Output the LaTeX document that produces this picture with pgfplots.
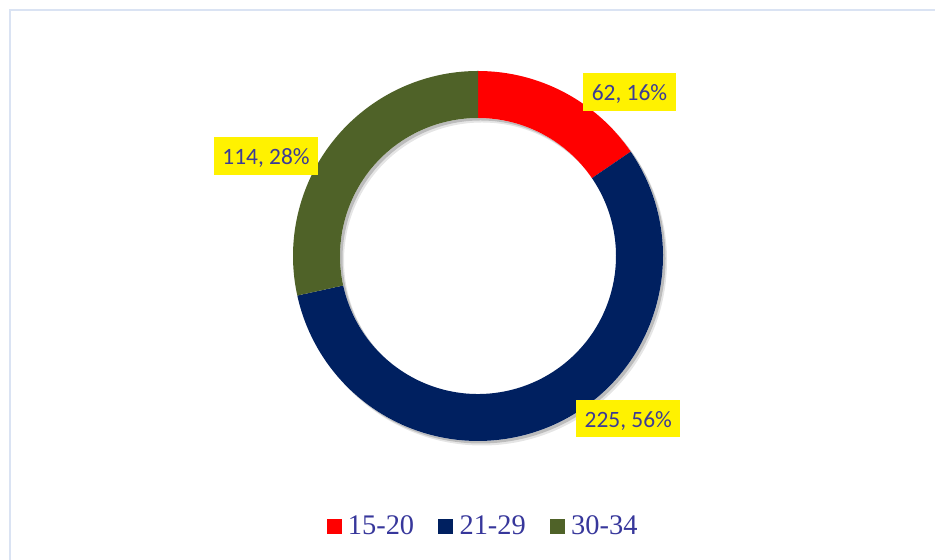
\documentclass[border=0pt]{standalone}
\usepackage{pgfplots}
\pgfplotsset{compat=1.18}
\usepackage{pgfplotstable}
\usepackage{fontspec}
\setmainfont{Liberation Serif}
\newfontfamily\carlito{Carlito}
\definecolor{c1}{HTML}{FF0000}
\definecolor{c2}{HTML}{002060}
\definecolor{c3}{HTML}{4F6228}
\definecolor{lblcol}{RGB}{60,60,150}
\definecolor{legcol}{RGB}{55,55,155}
\definecolor{framecol}{RGB}{218,227,243}

\pgfplotstableread{
label value
15-20 62
21-29 225
30-34 114
}\datatable

\newcommand\seg[3]{%
  \fill[#1] (axis cs:{478+185*cos(#2)},{304+185*sin(#2)}) arc[start angle=#2, end angle=#3, radius=185bp]
    -- (axis cs:{478+138*cos(#3)},{304+138*sin(#3)}) arc[start angle=#3, end angle=#2, radius=138bp] -- cycle;}

\begin{document}
\begin{tikzpicture}
\pgfplotstablegetelem{0}{value}\of\datatable \let\vA\pgfplotsretval
\pgfplotstablegetelem{1}{value}\of\datatable \let\vB\pgfplotsretval
\pgfplotstablegetelem{2}{value}\of\datatable \let\vC\pgfplotsretval
\pgfmathsetmacro\total{\vA+\vB+\vC}
\pgfmathsetmacro\aA{90-\vA/\total*360}
\pgfmathsetmacro\aB{90-(\vA+\vB)/\total*360}
\pgfmathsetmacro\aC{90-(\vA+\vB+\vC)/\total*360}
\begin{axis}[
  x=1bp, y=1bp, xmin=0, xmax=935, ymin=0, ymax=560,
  scale only axis, hide axis, clip=false, xtick=\empty, ytick=\empty,
  legend columns=3,
  legend style={at={(0.5155,0.0607)}, anchor=center, draw=none, fill=none,
    font=\fontsize{28.5}{30}\selectfont, text=legcol,
    nodes={inner sep=0pt},
    /tikz/every odd column/.append style={column sep=7bp},
    /tikz/every even column/.append style={column sep=24bp}},
]
\coordinate (ll) at (axis cs:0,0);
\coordinate (ur) at (axis cs:935,560);
\draw[framecol, line width=2bp] (axis cs:10,0) -- (axis cs:10,550) -- (axis cs:935,550);
% shadow
\fill[black, opacity=0.10, even odd rule] (axis cs:482,299.5) circle[radius=185bp] (axis cs:482,299.5) circle[radius=138bp];
\fill[black, opacity=0.18, even odd rule] (axis cs:480.5,301.5) circle[radius=185bp] (axis cs:480.5,301.5) circle[radius=138bp];
\fill[white, even odd rule] (axis cs:478,304) circle[radius=185bp] (axis cs:478,304) circle[radius=138bp];
\seg{c1}{90}{\aA}
\seg{c2}{\aA}{\aB}
\seg{c3}{\aB}{\aC}
\addlegendimage{legend image code/.code={\fill[c1] (0bp,-7bp) rectangle (14bp,7bp);}}
\addlegendentry{15-20}
\addlegendimage{legend image code/.code={\fill[c2] (0bp,-7bp) rectangle (14bp,7bp);}}
\addlegendentry{21-29}
\addlegendimage{legend image code/.code={\fill[c3] (0bp,-7bp) rectangle (14bp,7bp);}}
\addlegendentry{30-34}
\tikzset{lbl/.style={fill=yellow, text=lblcol, font={\carlito\fontsize{23.5}{26}\selectfont},
  inner xsep=8.5bp, inner ysep=0pt, text height=27.5bp, text depth=10bp, anchor=base}}
\node[lbl] at (axis cs:629.5,459.3) {62, 16\%};
\node[lbl] at (axis cs:628.3,132.7) {225, 56\%};
\node[lbl] at (axis cs:266,395) {114, 28\%};
\end{axis}
\pgfresetboundingbox
\path (ll) rectangle (ur);
\end{tikzpicture}
\end{document}
